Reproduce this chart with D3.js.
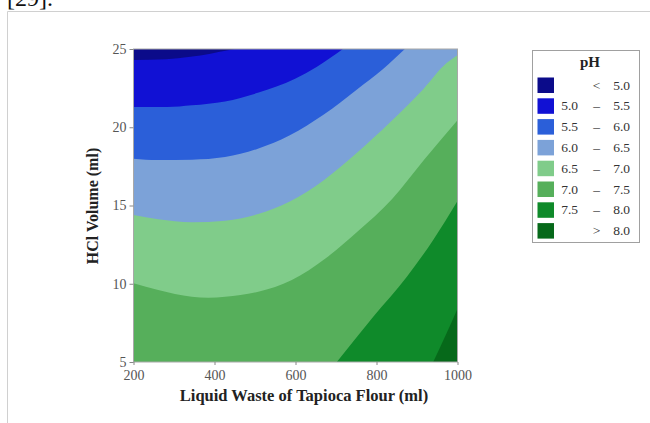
<!DOCTYPE html>
<html>
<head>
<meta charset="utf-8">
<script src="https://cdn.jsdelivr.net/npm/d3@7"></script>
<style>
  body { margin: 0; background: #fff; }
  svg { display: block; font-family: "Liberation Serif", "Times New Roman", serif; }
  .tick line { stroke: #888; }
</style>
</head>
<body>
<div id="chart"></div>
<script>
// Chart dimensions
const width = 650;
const height = 423;
const plot = {left: 133.5, right: 457.5, top: 49, bottom: 362};

// Axis ticks
const xTicks = [200, 400, 600, 800, 1000];
const yTicks = [5, 10, 15, 20, 25];

// pH contour levels and band colours (band i lies below level i)
const phLevels = [5.0, 5.5, 6.0, 6.5, 7.0, 7.5, 8.0];
const bandColors = ["#0b0b8a", "#1111d4", "#2b5fd9", "#7ca2d8", "#80cc8a", "#56af5b", "#0f8a2a", "#06691a"];

// Legend text columns
const legendLow = ["", "5.0", "5.5", "6.0", "6.5", "7.0", "7.5", ""];
const legendSep = ["<", "\u2013", "\u2013", "\u2013", "\u2013", "\u2013", "\u2013", ">"];
const legendHigh = ["5.0", "5.5", "6.0", "6.5", "7.0", "7.5", "8.0", "8.0"];

// Contour lines: [liquid waste (ml), HCl volume (ml)]
const iso50 = [[200, 24.3], [280, 24.35], [340, 24.5], [390, 24.7], [430, 24.9], [450, 25]];
const iso55 = [[200, 21.29], [283, 21.29], [344, 21.4], [426, 21.65], [507, 22.2], [599, 23.1], [652, 23.85], [717, 25]];
const iso60 = [[200, 17.99], [260, 17.9], [344, 17.93], [426, 18.1], [507, 18.63], [586, 19.49], [669, 20.8], [751, 22.4], [817, 23.74], [870, 25]];
const iso65 = [[200, 14.39], [261, 14.12], [344, 13.93], [426, 14.03], [508, 14.45], [586, 15.25], [669, 16.6], [751, 18.35], [833, 20.3], [916, 22.45], [973, 24.1], [1000, 24.6]];
const iso70 = [[200, 10.03], [261, 9.6], [344, 9.17], [385, 9.11], [426, 9.17], [508, 9.49], [591, 10.24], [673, 11.6], [754, 13.35], [838, 15.4], [917, 17.9], [1000, 20.44]];
const iso75 = [[702, 5], [792, 7.89], [875, 10.45], [940, 12.8], [1000, 15.29]];
const iso80 = [[940, 5], [973, 6.83], [1000, 8.4]];
const isoLines = [iso50, iso55, iso60, iso65, iso70, iso75, iso80];

const svg = d3.select("#chart")
    .append("svg")
    .attr("width", width)
    .attr("height", height);

// page frame and caption fragment
svg.append("path")
    .attr("d", `M7.5,${height}V11.5H${width}`)
    .attr("fill", "none")
    .attr("stroke", "#d0d0d0");
svg.append("text")
    .attr("x", 7)
    .attr("y", 6)
    .attr("font-size", 24)
    .attr("fill", "#111")
    .text("[29].");

// Scales
const x = d3.scaleLinear().domain([200, 1000]).range([plot.left, plot.right]);
const y = d3.scaleLinear().domain([5, 25]).range([plot.bottom, plot.top]);

svg.append("clipPath")
    .attr("id", "plot-clip")
    .append("rect")
    .attr("x", x(200))
    .attr("y", y(25))
    .attr("width", x(1000) - x(200))
    .attr("height", y(5) - y(25));

const field = svg.append("g").attr("clip-path", "url(#plot-clip)");

// highest band fills the whole area
field.append("rect")
    .attr("x", x(200))
    .attr("y", y(25))
    .attr("width", x(1000) - x(200))
    .attr("height", y(5) - y(25))
    .attr("fill", bandColors[bandColors.length - 1]);

const line = d3.line()
    .x(d => x(d[0]))
    .y(d => y(d[1]))
    .curve(d3.curveMonotoneX);

// close each contour through the upper-left corners of the domain
const corners = [[1000, 25], [200, 25], [200, 5]];

// paint region "pH < level" from the highest level down
for (let i = phLevels.length - 1; i >= 0; i--) {
    const d = line(isoLines[i]) + corners.map(c => `L${x(c[0])},${y(c[1])}`).join("") + "Z";
    field.append("path")
        .attr("d", d)
        .attr("fill", bandColors[i]);
}

// plot border
svg.append("rect")
    .attr("x", x(200))
    .attr("y", y(25))
    .attr("width", x(1000) - x(200))
    .attr("height", y(5) - y(25))
    .attr("fill", "none")
    .attr("stroke", "#a8a8a8");

// Axes
const xAxisG = svg.append("g")
    .attr("transform", `translate(0,${y(5)})`)
    .call(d3.axisBottom(x).tickValues(xTicks).tickFormat(d3.format("d"))
        .tickSize(3).tickSizeOuter(0).tickPadding(5));
const yAxisG = svg.append("g")
    .attr("transform", `translate(${x(200)},0)`)
    .call(d3.axisLeft(y).tickValues(yTicks).tickFormat(d3.format("d"))
        .tickSize(4).tickSizeOuter(0).tickPadding(3));
xAxisG.select(".domain").remove();
yAxisG.select(".domain").remove();
[xAxisG, yAxisG].forEach(g => {
    g.attr("font-family", null).attr("font-size", 14);
    g.selectAll(".tick text").attr("fill", "#555");
});

// Axis titles
svg.append("text")
    .attr("x", 304)
    .attr("y", 401)
    .attr("text-anchor", "middle")
    .attr("font-weight", "bold")
    .attr("font-size", 16.5)
    .attr("fill", "#222")
    .text("Liquid Waste of Tapioca Flour (ml)");

svg.append("text")
    .attr("transform", `translate(98,${206}) rotate(-90)`)
    .attr("text-anchor", "middle")
    .attr("font-weight", "bold")
    .attr("font-size", 16)
    .attr("fill", "#222")
    .text("HCl Volume (ml)");

// Legend
const legend = svg.append("g");
legend.append("rect")
    .attr("x", 532.5)
    .attr("y", 50.5)
    .attr("width", 107)
    .attr("height", 192)
    .attr("fill", "#fff")
    .attr("stroke", "#a0a0a0");
legend.append("text")
    .attr("x", 590)
    .attr("y", 67)
    .attr("text-anchor", "middle")
    .attr("font-weight", "bold")
    .attr("font-size", 15)
    .attr("fill", "#222")
    .text("pH");

const rowY = i => 85 + i * 20.8;
const rows = legend.selectAll(".row")
    .data(bandColors)
    .join("g")
    .attr("class", "row")
    .attr("transform", (d, i) => `translate(0,${rowY(i)})`);
rows.append("rect")
    .attr("x", 537.5)
    .attr("y", -7.5)
    .attr("width", 16.5)
    .attr("height", 15.5)
    .attr("fill", d => d);
rows.append("text")
    .attr("x", 578)
    .attr("y", 4.5)
    .attr("text-anchor", "end")
    .attr("font-size", 13.5)
    .attr("fill", "#333")
    .text((d, i) => legendLow[i]);
rows.append("text")
    .attr("x", 596.5)
    .attr("y", 4.5)
    .attr("text-anchor", "middle")
    .attr("font-size", 13.5)
    .attr("fill", "#333")
    .text((d, i) => legendSep[i]);
rows.append("text")
    .attr("x", 630)
    .attr("y", 4.5)
    .attr("text-anchor", "end")
    .attr("font-size", 13.5)
    .attr("fill", "#333")
    .text((d, i) => legendHigh[i]);
</script>
</body>
</html>
